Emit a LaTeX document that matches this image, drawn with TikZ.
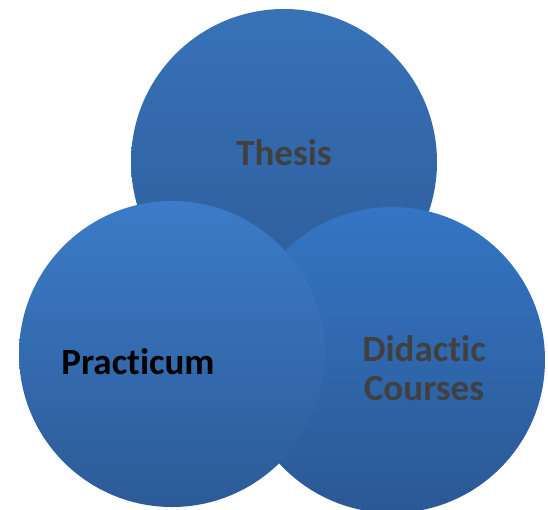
\documentclass[tikz,border=0pt]{standalone}
\usepackage{fontspec}
\setmainfont[Ligatures=NoCommon]{Carlito}
\usepackage{tikz}
\usetikzlibrary{shadings}

\tikzset{
	disc/.style={circle, draw=none, inner sep=0pt, minimum size=306pt, shading=axis},
	word/.style={font=\fontsize{37}{39}\selectfont\bfseries, align=center, inner sep=0pt}
}

\begin{document}
\begin{tikzpicture}[x=1pt,y=-1pt]
		\useasboundingbox (0,0) rectangle (548,509);
		\node[disc, top color={rgb,255:red,55;green,114;blue,184}, bottom color={rgb,255:red,46;green,92;blue,154}] (thesis) at (284,162) {};
		\node[disc, top color={rgb,255:red,52;green,117;blue,196}, bottom color={rgb,255:red,43;green,88;blue,148}] (didactic) at (392,360) {};
		\node[disc, top color={rgb,255:red,60;green,123;blue,200}, bottom color={rgb,255:red,44;green,91;blue,151}] (practicum) at (172,354) {};
		
		\node[word, text={rgb,255:red,64;green,64;blue,64}] (t1) at (284,153) {Thesis};
		\node[word, text=black] (t2) at (138,362) {Practicum};
		\node[word, text={rgb,255:red,64;green,64;blue,64}] (t3) at (424,368) {Didactic\\Courses};
		\end{tikzpicture}
\end{document}
